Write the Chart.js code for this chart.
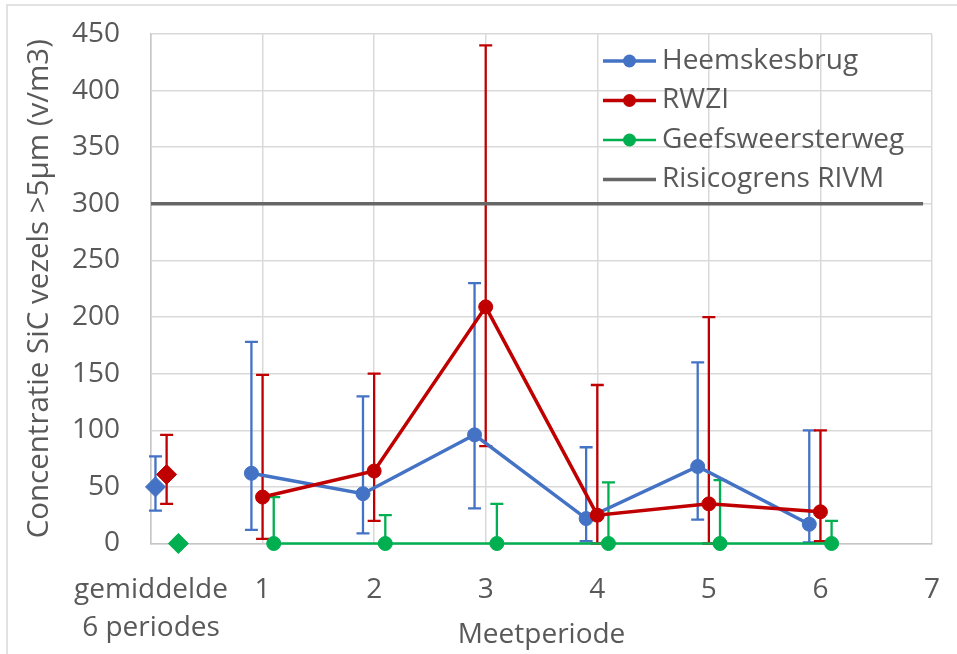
<!DOCTYPE html>
<html>
<head>
<meta charset="utf-8">
<script src="https://cdn.jsdelivr.net/npm/chart.js@4.4.1/dist/chart.umd.min.js"></script>
<style>
html,body{margin:0;padding:0;background:#fff;}
#wrap{position:relative;width:957px;height:654px;}
</style>
</head>
<body>
<div id="wrap"><canvas id="c" width="957" height="654"></canvas></div>
<script>
// ---- data ----
const periods = [1, 2, 3, 4, 5, 6];
const xTickLabels = [['gemiddelde', '6 periodes'], '1', '2', '3', '4', '5', '6', '7'];
const seriesNames = ['Heemskesbrug', 'RWZI', 'Geefsweersterweg'];
const riskName = 'Risicogrens RIVM';

const heemskesbrug     = [62, 44, 96, 22, 68, 17];
const heemskesbrugLow  = [12, 9, 31, 2, 21, 1];
const heemskesbrugHigh = [178, 130, 230, 85, 160, 100];

const rwzi     = [41, 64, 209, 25, 35, 28];
const rwziLow  = [4, 20, 86, 0, 0, 2];
const rwziHigh = [149, 150, 440, 140, 200, 100];

const geefsweersterweg     = [0, 0, 0, 0, 0, 0];
const geefsweersterwegLow  = [0, 0, 0, 0, 0, 0];
const geefsweersterwegHigh = [41, 25, 35, 54, 56, 20];

// averages over 6 periods (x position near 0)
const avgX    = [0.04, 0.14, 0.245];
const avgMean = [50, 61, 0];
const avgLow  = [29, 35, 0];
const avgHigh = [77, 96, 0];

const riskLimit = 300;
const riskX = [0, 6.92];

const seriesXOffset = [-0.1, 0, 0.1];

// ---- styles ----
const colors = ['#4472C4', '#C00000', '#00B050'];
const riskColor = '#666666';
const textColor = '#595959';
const FONT = "'Open Sans', 'Noto Sans', sans-serif";

function pts(xs, ys) { return xs.map((x, i) => ({ x: x, y: ys[i] })); }

const lineSeries = [
  { vals: heemskesbrug, lo: heemskesbrugLow, hi: heemskesbrugHigh },
  { vals: rwzi, lo: rwziLow, hi: rwziHigh },
  { vals: geefsweersterweg, lo: geefsweersterwegLow, hi: geefsweersterwegHigh }
];

const datasets = [];
lineSeries.forEach((s, k) => {
  datasets.push({
    label: seriesNames[k],
    data: pts(periods.map(p => p + seriesXOffset[k]), s.vals),
    errLow: s.lo, errHigh: s.hi,
    borderColor: colors[k], backgroundColor: colors[k],
    borderWidth: k === 2 ? 2.5 : 3.5,
    pointRadius: 7, pointBorderWidth: 1, pointHoverRadius: 7,
    pointBackgroundColor: colors[k], pointBorderColor: colors[k],
    showLine: true, tension: 0, clip: false, order: 2 - k
  });
});
avgMean.forEach((m, k) => {
  datasets.push({
    label: seriesNames[k] + ' gemiddelde',
    data: [{ x: avgX[k], y: m }],
    errLow: [avgLow[k]], errHigh: [avgHigh[k]],
    borderColor: colors[k], backgroundColor: colors[k],
    pointStyle: 'rectRot', pointRadius: 10, pointBorderWidth: 1, pointHoverRadius: 10,
    pointBackgroundColor: colors[k], pointBorderColor: colors[k],
    showLine: false, clip: false
  });
});
datasets.push({
  label: riskName,
  data: pts(riskX, riskX.map(() => riskLimit)),
  borderColor: riskColor, backgroundColor: riskColor,
  borderWidth: 3.5, pointRadius: 0, showLine: true, clip: false, order: 5
});

const errorBarPlugin = {
  id: 'errorBars',
  beforeDatasetsDraw(chart) {
    const { ctx, scales: { x, y } } = chart;
    chart.data.datasets.forEach((ds, i) => {
      if (!ds.errLow) return;
      ctx.save();
      ctx.strokeStyle = ds.borderColor;
      ctx.lineWidth = 2.3;
      ds.data.forEach((p, j) => {
        const px = x.getPixelForValue(p.x);
        const yl = y.getPixelForValue(ds.errLow[j]);
        const yh = y.getPixelForValue(ds.errHigh[j]);
        if (Math.abs(yl - yh) < 0.5) return;
        ctx.beginPath();
        ctx.moveTo(px, yl); ctx.lineTo(px, yh);
        ctx.moveTo(px - 6.5, yh); ctx.lineTo(px + 6.5, yh);
        ctx.moveTo(px - 6.5, yl); ctx.lineTo(px + 6.5, yl);
        ctx.stroke();
      });
      ctx.restore();
    });
  }
};

const framePlugin = {
  id: 'frame',
  beforeDraw(chart) {
    const ctx = chart.ctx;
    ctx.save();
    ctx.fillStyle = '#fff';
    ctx.fillRect(0, 0, chart.width, chart.height);
    ctx.strokeStyle = '#d9d9d9';
    ctx.lineWidth = 1.5;
    ctx.beginPath();
    ctx.moveTo(7, chart.height); ctx.lineTo(7, 5); ctx.lineTo(chart.width, 5);
    ctx.stroke();
    ctx.restore();
  }
};

const legendPlugin = {
  id: 'customLegend',
  afterDraw(chart) {
    const ctx = chart.ctx;
    const area = chart.chartArea;
    const x0 = area.right - 329, y0 = area.top + 27, step = 39.5;
    const entries = [0, 1, 2].map(k => ({ text: seriesNames[k], color: colors[k], marker: true, w: k === 2 ? 2.5 : 3.5 }));
    entries.push({ text: riskName, color: riskColor, marker: false, w: 3.5 });
    ctx.save();
    ctx.font = "28px " + FONT;
    ctx.textBaseline = 'middle';
    ctx.textAlign = 'left';
    entries.forEach((e, i) => {
      const yy = y0 + i * step;
      ctx.strokeStyle = e.color; ctx.lineWidth = e.w;
      ctx.beginPath(); ctx.moveTo(x0, yy); ctx.lineTo(x0 + 53, yy); ctx.stroke();
      if (e.marker) {
        ctx.fillStyle = e.color;
        ctx.beginPath(); ctx.arc(x0 + 26.5, yy, 6.5, 0, Math.PI * 2); ctx.fill();
      }
      ctx.fillStyle = textColor;
      ctx.fillText(e.text, x0 + 59, yy);
    });
    ctx.restore();
  }
};

new Chart(document.getElementById('c'), {
  type: 'scatter',
  data: { datasets: datasets },
  plugins: [framePlugin, errorBarPlugin, legendPlugin],
  options: {
    responsive: false,
    animation: false,
    events: [],
    layout: { autoPadding: false, padding: { left: 8, top: 34, right: 25, bottom: 2 } },
    plugins: { legend: { display: false }, tooltip: { enabled: false } },
    scales: {
      x: {
        type: 'linear', min: 0, max: 7,
        afterFit(scale) { scale.height = 108.5; scale.paddingLeft = 0; scale.paddingRight = 0; },
        ticks: {
          stepSize: 1, padding: 27, color: textColor,
          font: { family: FONT, size: 28, lineHeight: 1.37 },
          maxRotation: 0, autoSkip: false,
          callback: (v) => xTickLabels[v]
        },
        grid: { color: '#d9d9d9', lineWidth: 1.5, drawTicks: false },
        border: { color: '#c6c6c6', width: 1.5 },
        title: { display: true, text: 'Meetperiode', color: textColor,
                 font: { family: FONT, size: 28 }, padding: { top: 0, bottom: 0 } }
      },
      y: {
        min: 0, max: 450,
        afterFit(scale) { scale.width = 143; scale.paddingTop = 0; scale.paddingBottom = 0; },
        ticks: { stepSize: 50, padding: 31, color: textColor, font: { family: FONT, size: 28 } },
        grid: { color: '#d9d9d9', lineWidth: 1.5, drawTicks: false },
        border: { color: '#c6c6c6', width: 1.5 },
        title: { display: true, text: 'Concentratie SiC vezels >5µm (v/m3)', color: textColor,
                 font: { family: FONT, size: 29.5 }, padding: { top: 14, bottom: 0 } }
      }
    }
  }
});
</script>
</body>
</html>
